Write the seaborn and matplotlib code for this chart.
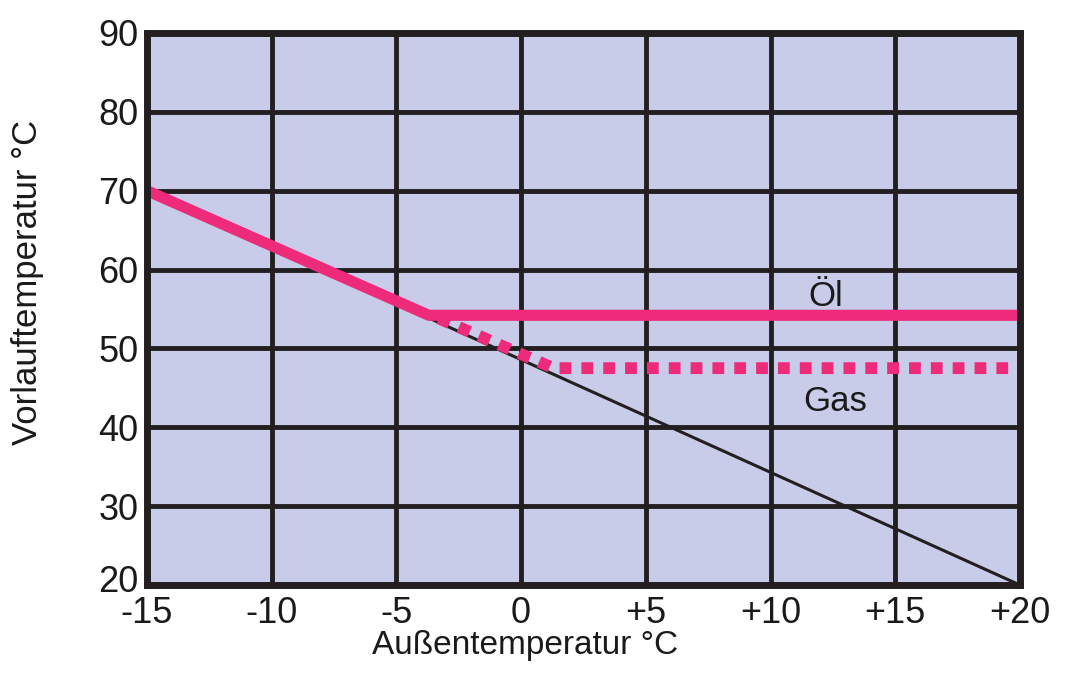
import matplotlib
matplotlib.use("Agg")
import matplotlib.pyplot as plt
import matplotlib.transforms as mtransforms
import seaborn as sns
import pandas as pd

# Kennlinien
reference_x = [-15, 20]
reference_y = [70, 20]
oil_x = [-15, -3.7, 20]
oil_y = [70, 54.2, 54.2]
gas_x = [-3.3, 1.3, 20]
gas_y = [53.8, 47.5, 47.5]

x_ticks = [-15, -10, -5, 0, 5, 10, 15, 20]
x_labels = ["-15", "-10", "-5", "0", "+5", "+10", "+15", "+20"]
y_ticks = [20, 30, 40, 50, 60, 70, 80, 90]

sns.set_theme(style="white")
plt.rcParams['font.family'] = ['Liberation Sans', 'DejaVu Sans']

pink = "#ee2a7b"
dark = "#231f20"
txt = "#1a1a1a"

fig = plt.figure(figsize=(10.77, 6.8), dpi=100)
ax = fig.add_axes([0.1365, 0.1397, 0.8105, 0.8118])
ax.set_facecolor("#c8cce8")

ref = pd.DataFrame({"x": reference_x, "y": reference_y})
oil = pd.DataFrame({"x": oil_x, "y": oil_y})
gas = pd.DataFrame({"x": gas_x, "y": gas_y})

sns.lineplot(data=ref, x="x", y="y", ax=ax, color=dark, linewidth=2.2, zorder=3)
sns.lineplot(data=gas, x="x", y="y", ax=ax, color=pink, linewidth=8.5, zorder=4)
ax.lines[-1].set_dashes([1.0, 0.85])
ax.lines[-1].set_dash_capstyle("butt")
sns.lineplot(data=oil, x="x", y="y", ax=ax, color=pink, linewidth=8,
             solid_capstyle="butt", zorder=5)

ax.set_xlim(-15, 20)
ax.set_ylim(20, 90)
ax.set_xticks(x_ticks)
ax.set_xticklabels(x_labels)
ax.set_yticks(y_ticks)
ax.grid(True, color=dark, linewidth=3.5)
ax.set_axisbelow(True)
for s in ax.spines.values():
    s.set_visible(True)
    s.set_color(dark)
    s.set_linewidth(5)
    s.set_zorder(6)
ax.tick_params(axis="both", length=0, labelsize=26, colors=txt)
ax.tick_params(axis="x", pad=8)
ax.tick_params(axis="y", pad=6)

# lowest y label sits a little higher, as in the original
lowest = ax.get_yticklabels()[0]
lowest.set_transform(lowest.get_transform() +
                     mtransforms.ScaledTranslation(0, 5 / 72, fig.dpi_scale_trans))

ax.set_xlabel("Außentemperatur °C", fontsize=24, color=txt)
ax.set_ylabel("Vorlauftemperatur °C", fontsize=25, color=txt)
ax.xaxis.set_label_coords(0.433, -0.1245)
ax.yaxis.set_label_coords(-0.137, 0.549)
ax.xaxis.label.set_va("baseline")
ax.yaxis.label.set_va("center")

ax.text(12.2, 56.6, "Öl", fontsize=25, color=txt, ha="center", va="center")
ax.text(12.6, 43.3, "Gas", fontsize=25, color=txt, ha="center", va="center")

fig.savefig("out.png", dpi=100)
